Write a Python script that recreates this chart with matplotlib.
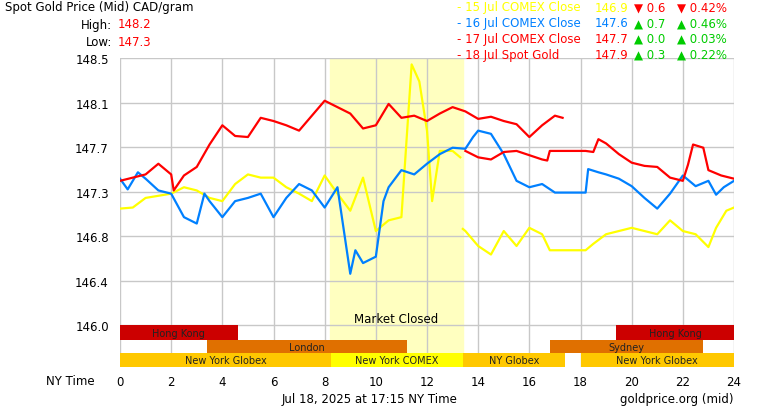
import numpy as np
import matplotlib.pyplot as plt

# 18 Jul spot gold (red, today)
spot_h = [0, 0.5, 1, 1.5, 2, 2.1, 2.5, 3, 3.5, 4, 4.5, 5, 5.5, 6, 6.5, 7, 7.5, 8, 8.5, 9, 9.5, 10,
          10.5, 11, 11.5, 12, 12.5, 13, 13.5, 14, 14.5, 15, 15.5, 16, 16.5, 17, 17.3]
spot_v = [147.35, 147.38, 147.41, 147.51, 147.41, 147.26, 147.40, 147.48, 147.69, 147.87, 147.77, 147.76,
          147.94, 147.91, 147.87, 147.82, 147.96, 148.10, 148.04, 147.98, 147.84, 147.87, 148.07, 147.94,
          147.96, 147.91, 147.98, 148.04, 148.00, 147.93, 147.95, 147.91, 147.88, 147.76, 147.87, 147.96, 147.94]

# 17 Jul COMEX close (red)
jul17_h = [13.5, 14, 14.5, 15, 15.5, 16, 16.5, 16.7, 16.8, 18.2, 18.5, 18.7, 19, 19.5, 20, 20.5, 21,
           21.5, 22, 22.2, 22.4, 22.8, 23, 23.5, 24]
jul17_v = [147.63, 147.57, 147.55, 147.62, 147.63, 147.59, 147.55, 147.54, 147.63, 147.63, 147.62, 147.74,
           147.70, 147.60, 147.52, 147.49, 147.48, 147.38, 147.35, 147.50, 147.69, 147.66, 147.45, 147.40, 147.37]

# 16 Jul COMEX close (blue)
jul16_h = [0, 0.3, 0.7, 1, 1.5, 2, 2.5, 3, 3.3, 3.5, 4, 4.5, 5, 5.5, 6, 6.5, 7, 7.5, 8, 8.5, 9, 9.2,
           9.5, 10, 10.3, 10.5, 11, 11.5, 12, 12.5, 13, 13.5, 13.8, 14, 14.5, 15, 15.5, 16, 16.5, 17,
           18.2, 18.3, 18.7, 19, 19.5, 20, 20.5, 21, 21.5, 22, 22.5, 23, 23.3, 23.6, 24]
jul16_v = [147.37, 147.27, 147.43, 147.37, 147.26, 147.23, 147.01, 146.95, 147.23, 147.16, 147.01, 147.16,
           147.19, 147.23, 147.01, 147.19, 147.32, 147.26, 147.10, 147.29, 146.48, 146.70, 146.58, 146.64,
           147.16, 147.29, 147.45, 147.41, 147.51, 147.60, 147.66, 147.65, 147.76, 147.82, 147.79, 147.60,
           147.35, 147.29, 147.32, 147.24, 147.24, 147.46, 147.43, 147.41, 147.37, 147.30, 147.19, 147.09,
           147.23, 147.40, 147.30, 147.35, 147.22, 147.29, 147.35]

# 15 Jul COMEX close (yellow), gap at 13.35
jul15_h = [0, 0.5, 1, 1.5, 2, 2.5, 3, 3.5, 4, 4.5, 5, 5.5, 6, 6.5, 7, 7.5, 8, 8.5, 9, 9.5, 10, 10.5,
           11, 11.2, 11.4, 11.7, 12, 12.2, 12.5, 13, 13.3, 13.35, 13.4, 13.5, 14, 14.5, 15, 15.5, 16,
           16.5, 16.8, 18.2, 18.5, 19, 19.5, 20, 20.5, 21, 21.5, 22, 22.5, 23, 23.3, 23.7, 24]
jul15_v = [147.09, 147.10, 147.19, 147.21, 147.23, 147.29, 147.26, 147.19, 147.16, 147.32, 147.41, 147.38,
           147.38, 147.29, 147.23, 147.16, 147.40, 147.23, 147.07, 147.38, 146.88, 146.98, 147.01, 147.73,
           148.44, 148.28, 147.82, 147.16, 147.63, 147.63, 147.57, np.nan, 146.90, 146.88, 146.74, 146.66,
           146.88, 146.74, 146.91, 146.85, 146.70, 146.70, 146.76, 146.85, 146.88, 146.91, 146.88, 146.85,
           146.98, 146.88, 146.85, 146.73, 146.91, 147.07, 147.10]

y_ticks = [146.0 + k * 2.5 / 6 for k in range(7)]
y_labels = ["146.0", "146.4", "146.8", "147.3", "147.7", "148.1", "148.5"]

# trading sessions: (label, start, end, row, colour)
sessions = [("Hong Kong", 0, 4.6, 0, "#cc0000"), ("Hong Kong", 19.4, 24, 0, "#cc0000"),
            ("London", 3.4, 11.2, 1, "#e07000"), ("Sydney", 16.8, 22.8, 1, "#e07000"),
            ("New York Globex", 0, 8.25, 2, "#ffc800"), ("New York COMEX", 8.25, 13.4, 2, "#ffff00"),
            ("NY Globex", 13.4, 17.4, 2, "#ffc800"), ("New York Globex", 18, 24, 2, "#ffc800")]
row_top = [146.0, 145.86, 145.735]
row_h = [0.14, 0.125, 0.128]

legend_rows = [("- 15 Jul COMEX Close", "146.9", "\u25bc 0.6", "\u25bc 0.42%", "#ffff00", "#ff0000"),
               ("- 16 Jul COMEX Close", "147.6", "\u25b2 0.7", "\u25b2 0.46%", "#0080ff", "#00cc00"),
               ("- 17 Jul COMEX Close", "147.7", "\u25b2 0.0", "\u25b2 0.03%", "#ff0000", "#00cc00"),
               ("- 18 Jul Spot Gold", "147.9", "\u25b2 0.3", "\u25b2 0.22%", "#ff0000", "#00cc00")]

plt.rcParams["font.family"] = "DejaVu Sans"
fig = plt.figure(figsize=(7.7, 4.1), dpi=100)
ax = fig.add_axes([120 / 770, 1 - 368 / 410, 614 / 770, 309 / 410])
ax.set_xlim(0, 24)
ax.set_ylim(145.607, 148.5)

ax.axvspan(8.2, 13.4, ymin=0, ymax=1, color="#ffffc0", zorder=0)
for y in y_ticks:
    ax.axhline(y, color="#c8c8c8", lw=1, zorder=1)
for x in range(0, 25, 2):
    ax.axvline(x, color="#c8c8c8", lw=1, zorder=1)

ax.plot(jul15_h, jul15_v, color="#ffff00", lw=1.6, zorder=3)
ax.plot(jul16_h, jul16_v, color="#0080ff", lw=1.6, zorder=4)
ax.plot(jul17_h, jul17_v, color="#ff0000", lw=1.6, zorder=5)
ax.plot(spot_h, spot_v, color="#ff0000", lw=1.6, zorder=5)

for name, s, e, row, c in sessions:
    ax.bar(s, -row_h[row], width=e - s, bottom=row_top[row], align="edge", color=c, zorder=6)
    ax.text((s + e) / 2, row_top[row] - row_h[row] / 2, name, ha="center", va="center",
            fontsize=7, color="#222222", zorder=7)
ax.text(10.8, 146.06, "Market Closed", ha="center", va="center", fontsize=8.5, zorder=7)

for sp in ax.spines.values():
    sp.set_visible(False)
ax.set_yticks(y_ticks)
ax.set_yticklabels(y_labels, fontsize=8.5)
ax.set_xticks(range(0, 25, 2))
ax.tick_params(length=0, labelsize=8.5, pad=8)
ax.tick_params(axis="x", pad=6)

fig.text(5 / 770, 1 - 8 / 410, "Spot Gold Price (Mid) CAD/gram", fontsize=8.5, va="center")
fig.text(112 / 770, 1 - 25 / 410, "High:", fontsize=8.5, va="center", ha="right")
fig.text(118 / 770, 1 - 25 / 410, "148.2", fontsize=8.5, va="center", color="#ff0000")
fig.text(112 / 770, 1 - 43 / 410, "Low:", fontsize=8.5, va="center", ha="right")
fig.text(118 / 770, 1 - 43 / 410, "147.3", fontsize=8.5, va="center", color="#ff0000")
for i, (lab, val, ch, pct, c, cc) in enumerate(legend_rows):
    yy = 1 - (8 + i * 15.7) / 410
    fig.text(457 / 770, yy, lab, fontsize=8.5, va="center", color=c)
    fig.text(595 / 770, yy, val, fontsize=8.5, va="center", color=c)
    fig.text(634 / 770, yy, ch, fontsize=8.5, va="center", color=cc)
    fig.text(677 / 770, yy, pct, fontsize=8.5, va="center", color=cc)
fig.text(95 / 770, 1 - 382 / 410, "NY Time", fontsize=8.5, va="center", ha="right")
fig.text(370 / 770, 1 - 400 / 410, "Jul 18, 2025 at 17:15 NY Time", fontsize=8.5, va="center", ha="center")
fig.text(734 / 770, 1 - 400 / 410, "goldprice.org (mid)", fontsize=8.5, va="center", ha="right")

fig.savefig("out.png", dpi=100)
